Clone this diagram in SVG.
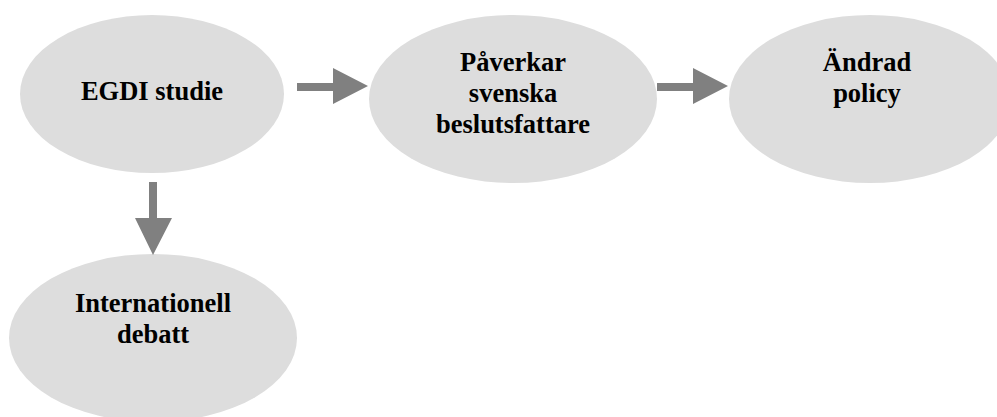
<svg xmlns="http://www.w3.org/2000/svg" width="997" height="417" viewBox="0 0 997 417">
  <style>
    .node ellipse { fill: #dddddd; }
    .node text { font-family: "Liberation Serif", "Times New Roman", serif; font-weight: bold; font-size: 26.5px; fill: #000000; text-anchor: middle; }
    .arrow { fill: #808080; }
  </style>
  <rect width="997" height="417" fill="#ffffff"/>

  <g id="egdi-studie" class="node">
    <ellipse cx="152" cy="94" rx="132" ry="79"/>
    <text x="152" y="100">EGDI studie</text>
  </g>

  <g id="paverkar" class="node">
    <ellipse cx="513" cy="99" rx="144" ry="84"/>
    <text x="513" y="71">Påverkar</text>
    <text x="513" y="102">svenska</text>
    <text x="513" y="133">beslutsfattare</text>
  </g>

  <g id="andrad-policy" class="node">
    <ellipse cx="870" cy="99" rx="141" ry="84"/>
    <text x="867" y="71">Ändrad</text>
    <text x="867" y="102">policy</text>
  </g>

  <g id="internationell-debatt" class="node">
    <ellipse cx="153" cy="338" rx="144" ry="84"/>
    <text x="153" y="312">Internationell</text>
    <text x="153" y="343">debatt</text>
  </g>

  <g id="connectors">
    <!-- EGDI studie -> Påverkar -->
    <polygon class="arrow" points="297,83 333,83 333,68 368,86 333,104 333,91 297,91"/>
    <!-- Påverkar -> Ändrad policy -->
    <polygon class="arrow" points="657,83 693,83 693,68 728,86 693,104 693,91 657,91"/>
    <!-- EGDI studie -> Internationell debatt -->
    <polygon class="arrow" points="149,182 157,182 157,218 172,218 153,255 135,218 149,218"/>
  </g>
</svg>
